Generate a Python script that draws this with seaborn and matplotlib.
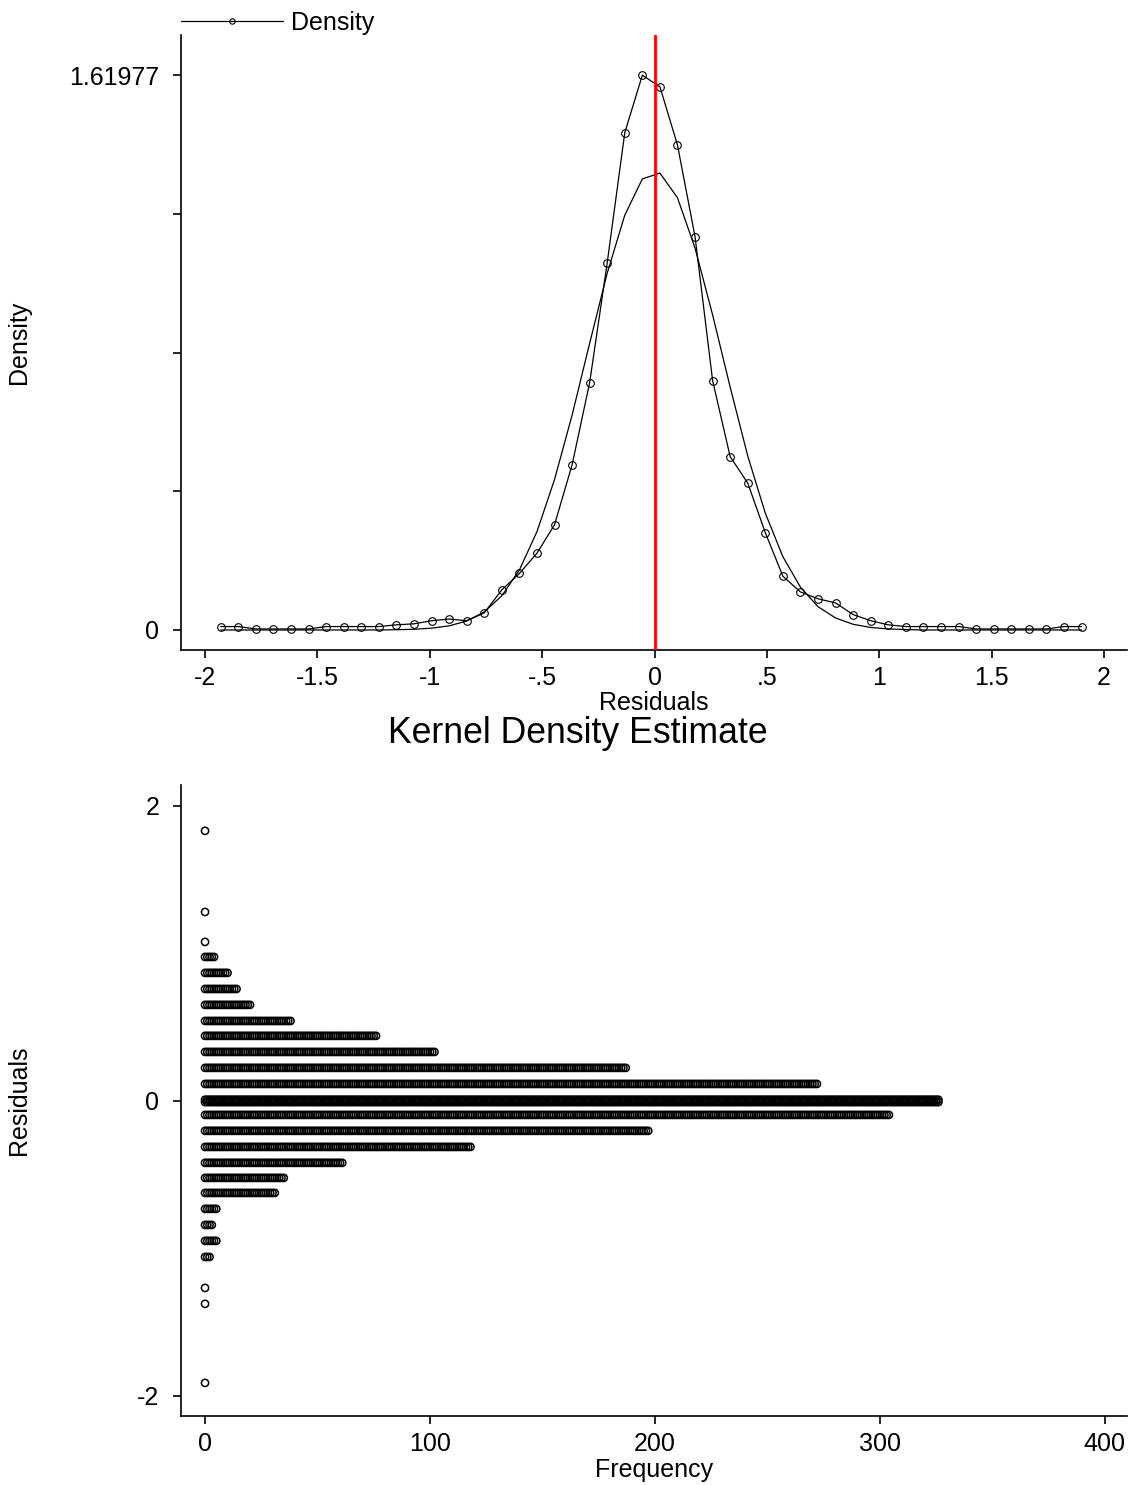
import numpy as np
import pandas as pd
import matplotlib
matplotlib.use("Agg")
import matplotlib.pyplot as plt
import seaborn as sns

# ---- Kernel density estimate of the residuals (50 evaluation points) ----
grid_start, grid_end, n_points = -1.93, 1.90, 50
kde_density = [
    0.010, 0.010, 0.003, 0.003, 0.003, 0.003, 0.010, 0.010, 0.010, 0.010,
    0.015, 0.018, 0.027, 0.032, 0.027, 0.050, 0.117, 0.165, 0.224, 0.307,
    0.482, 0.722, 1.072, 1.452, 1.61977, 1.586, 1.416, 1.148, 0.728, 0.506,
    0.429, 0.284, 0.157, 0.111, 0.091, 0.079, 0.045, 0.027, 0.015, 0.010,
    0.010, 0.010, 0.010, 0.003, 0.003, 0.003, 0.003, 0.003, 0.010, 0.010,
]
# Normal reference density on the same grid
normal_density = [
    0.000, 0.000, 0.000, 0.000, 0.000, 0.000, 0.000, 0.000, 0.000, 0.000,
    0.0008, 0.0021, 0.0053, 0.0121, 0.0261, 0.0526, 0.0998, 0.175, 0.287, 0.439,
    0.627, 0.837, 1.042, 1.211, 1.317, 1.334, 1.262, 1.115, 0.920, 0.709,
    0.508, 0.341, 0.214, 0.125, 0.068, 0.035, 0.0166, 0.0074, 0.0031, 0.0012,
    0.000, 0.000, 0.000, 0.000, 0.000, 0.000, 0.000, 0.000, 0.000, 0.000,
]
density_max = 1.61977
x_ticks_top = [-2, -1.5, -1, -0.5, 0, 0.5, 1, 1.5, 2]
x_ticklabels_top = ["-2", "-1.5", "-1", "-.5", "0", ".5", "1", "1.5", "2"]

# ---- Dot plot of residuals: bin value and number of observations ----
row_values = [1.831, 1.281, 1.078, 0.976, 0.868, 0.759, 0.651, 0.542, 0.441,
              0.332, 0.224, 0.115, 0.008, -0.008, -0.095, -0.203, -0.312,
              -0.420, -0.522, -0.624, -0.732, -0.841, -0.949, -1.058,
              -1.268, -1.376, -1.912]
row_counts = [1, 1, 1, 5, 11, 15, 21, 39, 77,
              103, 188, 273, 327, 327, 305, 198, 119,
              62, 36, 32, 6, 4, 6, 3,
              1, 1, 1]

sns.set_theme(style="ticks")
plt.rcParams["font.family"] = ["Liberation Sans", "DejaVu Sans"]
plt.rcParams["axes.unicode_minus"] = False
plt.rcParams["axes.linewidth"] = 1.2
plt.rcParams["xtick.major.width"] = 1.2
plt.rcParams["ytick.major.width"] = 1.2
plt.rcParams["xtick.major.size"] = 5.5
plt.rcParams["ytick.major.size"] = 5.5
plt.rcParams["xtick.color"] = "black"
plt.rcParams["ytick.color"] = "black"
plt.rcParams["axes.edgecolor"] = "black"
plt.rcParams["text.color"] = "black"
plt.rcParams["axes.labelcolor"] = "black"

FS = 18

fig = plt.figure(figsize=(11.36, 14.85), dpi=100)

# ---------------- Top panel: density ----------------
ax1 = fig.add_axes([0.1593, 0.5623, 0.8327, 0.4141])
x_grid = np.linspace(grid_start, grid_end, n_points)
kde_df = pd.DataFrame({"Residuals": x_grid, "kde": kde_density, "normal": normal_density})

sns.lineplot(data=kde_df, x="Residuals", y="kde", ax=ax1, color="black",
             linewidth=0.9, marker="o", markersize=5.5, markerfacecolor="none",
             markeredgecolor="black", markeredgewidth=0.8, label="Density")
sns.lineplot(data=kde_df, x="Residuals", y="normal", ax=ax1, color="black",
             linewidth=0.9, legend=False)
ax1.axvline(0, color="#ff0000", linewidth=2.0, zorder=3)

ax1.set_xlim(-2.107, 2.102)
ax1.set_ylim(-0.0584, 1.737)
ax1.set_xticks(x_ticks_top)
ax1.set_xticklabels(x_ticklabels_top)
ax1.set_yticks([density_max * k / 4 for k in range(5)])
ax1.set_yticklabels(["0", "", "", "", "1.61977"])
ax1.tick_params(axis="both", labelsize=FS, direction="out")
ax1.tick_params(axis="y", pad=10)
ax1.tick_params(axis="x", pad=6)
sns.despine(ax=ax1)
ax1.set_xlabel("Residuals", fontsize=FS)
ax1.set_ylabel("Density", fontsize=FS)
ax1.yaxis.set_label_coords(-0.1586, 0.5)
ax1.xaxis.set_label_coords(0.5, -0.066)

leg = ax1.legend(loc="lower left", bbox_to_anchor=(0.0, 1.0), frameon=False,
                 fontsize=FS, handlelength=4.1, handletextpad=0.3,
                 borderaxespad=0.0, borderpad=0.0, markerscale=0.7)

fig.text(0.509, 1 - 734 / 1485, "Kernel Density Estimate", fontsize=25.7,
         ha="center", va="center")

# ---------------- Bottom panel: dot plot ----------------
ax2 = fig.add_axes([0.1593, 0.0465, 0.8327, 0.4249])
dots = pd.DataFrame({
    "Frequency": np.concatenate([np.arange(c) for c in row_counts]),
    "Residuals": np.concatenate([np.full(c, v) for v, c in zip(row_values, row_counts)]),
})
sns.scatterplot(data=dots, x="Frequency", y="Residuals", ax=ax2, marker="o",
                s=27, facecolor="none", edgecolor="black", linewidth=1.1)

ax2.set_xlim(-10.7, 409.8)
ax2.set_ylim(-2.136, 2.142)
ax2.set_xticks([0, 100, 200, 300, 400])
ax2.set_yticks([-2, 0, 2])
ax2.tick_params(axis="both", labelsize=FS, direction="out")
ax2.tick_params(axis="y", pad=10)
ax2.tick_params(axis="x", pad=6)
sns.despine(ax=ax2)
ax2.set_xlabel("Frequency", fontsize=FS)
ax2.set_ylabel("Residuals", fontsize=FS)
ax2.yaxis.set_label_coords(-0.1586, 0.5)
ax2.xaxis.set_label_coords(0.5, -0.066)

fig.savefig("out.png", dpi=100)
